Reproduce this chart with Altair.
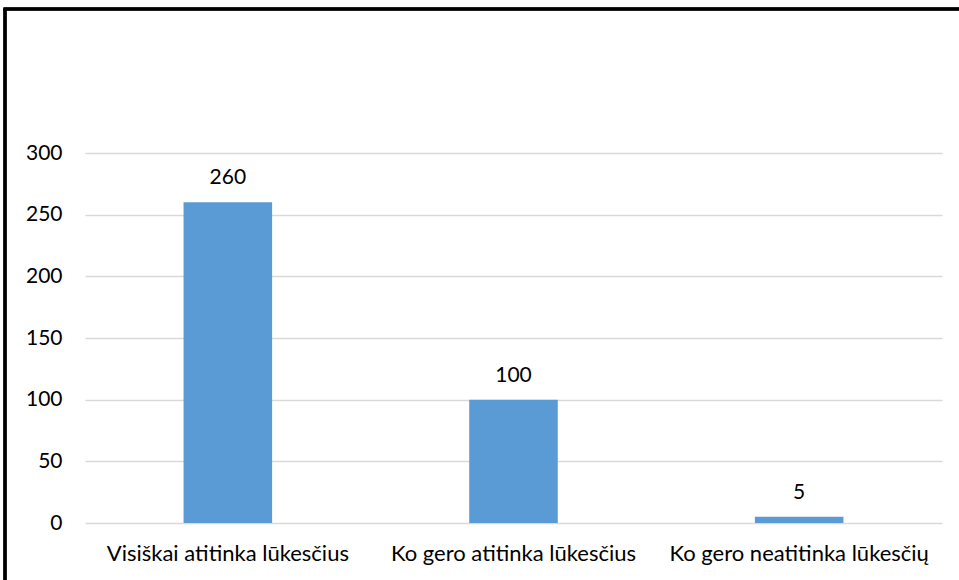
import altair as alt
import pandas as pd

categories = ["Visiškai atitinka  lūkesčius", "Ko gero atitinka lūkesčius", "Ko gero neatitinka lūkesčių"]
values = [260, 100, 5]

df = pd.DataFrame({"cat": categories, "val": values})

W, H = 857, 370
FONT = "Lato"

x = alt.X("cat:N", sort=categories, title=None,
          scale=alt.Scale(paddingInner=0.69, paddingOuter=0.345),
          axis=alt.Axis(labelAngle=0, domain=False, ticks=False, labelPadding=20, labelLimit=0,
                        labelFont=FONT, labelFontSize=22, labelColor="#000000"))
y = alt.Y("val:Q", title=None,
          scale=alt.Scale(domain=[0, 300], nice=False),
          axis=alt.Axis(values=[0, 50, 100, 150, 200, 250, 300], domain=False, ticks=False,
                        labelPadding=23, labelFont=FONT, labelFontSize=21, labelColor="#000000",
                        gridColor="#d9d9d9", gridWidth=1.3))

bars = alt.Chart(df).mark_bar(color="#5b9bd5").encode(x=x, y=y)
labels = alt.Chart(df).mark_text(dy=-18, baseline="alphabetic", font=FONT, fontSize=21, color="#000000").encode(
    x=alt.X("cat:N", sort=categories), y="val:Q", text="val:Q")

frame_left = alt.Chart(df).mark_rule(color="#000000", strokeWidth=3).encode(
    x=alt.value(-80), y=alt.value(-144), y2=alt.value(440))
frame_top = alt.Chart(df).mark_rule(color="#000000", strokeWidth=3).encode(
    x=alt.value(-81.5), x2=alt.value(900), y=alt.value(-144))

chart = alt.layer(bars, labels, frame_left, frame_top).properties(
    width=W, height=H,
    padding={"left": 85, "top": 153, "right": 17, "bottom": 57},
    autosize=alt.AutoSizeParams(type="none"),
    background="#ffffff",
).configure_view(stroke=None)

chart.save("out.html", embed_options={"renderer": "svg", "actions": False})
